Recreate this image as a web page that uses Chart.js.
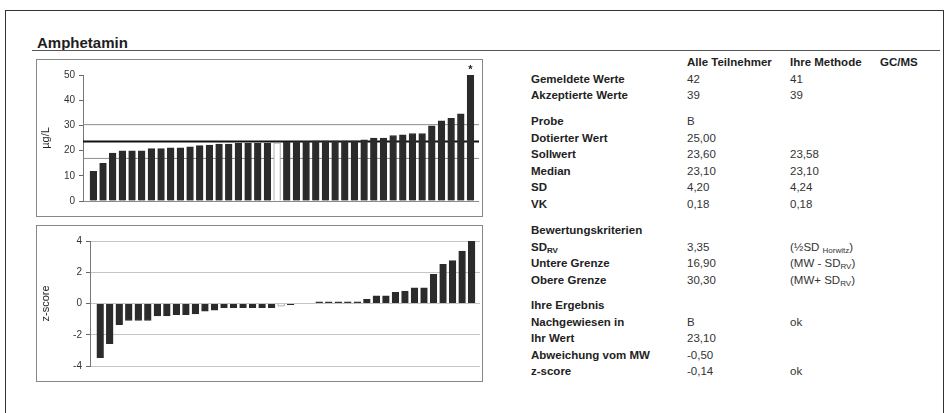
<!DOCTYPE html>
<html>
<head>
<meta charset="utf-8">
<script src="https://cdn.jsdelivr.net/npm/chart.js@4"></script>
<style>
  html, body { margin: 0; padding: 0; background: #fff; }
  body { width: 949px; height: 413px; position: relative; overflow: hidden;
         font-family: 'Liberation Sans', Arial, sans-serif; color: #222; }
  .frame { position: absolute; left: 5px; top: 10px; width: 939px; height: 420px;
           border: 1.5px solid #333; box-sizing: border-box; }
  .heading { position: absolute; left: 37px; top: 34px; font-size: 15px; font-weight: bold;
             line-height: 17px; color: #1e1e1e; }
  .rule { position: absolute; left: 32px; top: 50px; width: 908px; height: 1px; background: #555; }
  .box { position: absolute; border: 1px solid #888; box-sizing: border-box; }
  canvas { position: absolute; }
  .t { position: absolute; font-size: 11.5px; line-height: 16px; white-space: nowrap; color: #333; }
  .b { font-weight: bold; color: #222; }
  sub { font-size: 8px; vertical-align: -2px; line-height: 0; }
</style>
</head>
<body>
<div class="frame"></div>
<div class="heading">Amphetamin</div>
<div class="rule"></div>

<div class="box" style="left:36px;top:59px;width:447px;height:158px"></div>
<div class="box" style="left:36px;top:225px;width:447px;height:157px"></div>
<canvas id="valueChart" width="445" height="156" style="left:37px;top:60px"></canvas>
<canvas id="zChart" width="445" height="155" style="left:37px;top:226px"></canvas>

<!-- statistics table -->
<div class="t b" style="left:687px;top:54px">Alle Teilnehmer</div>
<div class="t b" style="left:790px;top:54px">Ihre Methode</div>
<div class="t b" style="left:880px;top:54px">GC/MS</div>

<div class="t b" style="left:531px;top:71px">Gemeldete Werte</div>
<div class="t" style="left:687px;top:71px">42</div>
<div class="t" style="left:790px;top:71px">41</div>
<div class="t b" style="left:531px;top:87px">Akzeptierte Werte</div>
<div class="t" style="left:687px;top:87px">39</div>
<div class="t" style="left:790px;top:87px">39</div>

<div class="t b" style="left:531px;top:113px">Probe</div>
<div class="t" style="left:687px;top:113px">B</div>
<div class="t b" style="left:531px;top:129.5px">Dotierter Wert</div>
<div class="t" style="left:687px;top:129.5px">25,00</div>
<div class="t b" style="left:531px;top:146px">Sollwert</div>
<div class="t" style="left:687px;top:146px">23,60</div>
<div class="t" style="left:790px;top:146px">23,58</div>
<div class="t b" style="left:531px;top:162.5px">Median</div>
<div class="t" style="left:687px;top:162.5px">23,10</div>
<div class="t" style="left:790px;top:162.5px">23,10</div>
<div class="t b" style="left:531px;top:179px">SD</div>
<div class="t" style="left:687px;top:179px">4,20</div>
<div class="t" style="left:790px;top:179px">4,24</div>
<div class="t b" style="left:531px;top:195.5px">VK</div>
<div class="t" style="left:687px;top:195.5px">0,18</div>
<div class="t" style="left:790px;top:195.5px">0,18</div>

<div class="t b" style="left:531px;top:222px">Bewertungskriterien</div>
<div class="t b" style="left:531px;top:238.5px">SD<sub>RV</sub></div>
<div class="t" style="left:687px;top:238.5px">3,35</div>
<div class="t" style="left:790px;top:238.5px">(½SD <sub>Horwitz</sub>)</div>
<div class="t b" style="left:531px;top:255px">Untere Grenze</div>
<div class="t" style="left:687px;top:255px">16,90</div>
<div class="t" style="left:790px;top:255px">(MW - SD<sub>RV</sub>)</div>
<div class="t b" style="left:531px;top:271.5px">Obere Grenze</div>
<div class="t" style="left:687px;top:271.5px">30,30</div>
<div class="t" style="left:790px;top:271.5px">(MW+ SD<sub>RV</sub>)</div>

<div class="t b" style="left:531px;top:297px">Ihre Ergebnis</div>
<div class="t b" style="left:531px;top:313.5px">Nachgewiesen in</div>
<div class="t" style="left:687px;top:313.5px">B</div>
<div class="t" style="left:790px;top:313.5px">ok</div>
<div class="t b" style="left:531px;top:330px">Ihr Wert</div>
<div class="t" style="left:687px;top:330px">23,10</div>
<div class="t b" style="left:531px;top:346.5px">Abweichung vom MW</div>
<div class="t" style="left:687px;top:346.5px">-0,50</div>
<div class="t b" style="left:531px;top:363px">z-score</div>
<div class="t" style="left:687px;top:363px">-0,14</div>
<div class="t" style="left:790px;top:363px">ok</div>

<script>
// Reported results, sorted ascending (µg/L)
const values = [11.8, 14.9, 19.0, 19.9, 19.9, 19.9, 20.8, 20.8, 21.1, 21.1,
                21.5, 22.0, 22.2, 22.6, 22.6, 22.9, 22.9, 22.9, 22.9, 23.1,
                23.3, 23.6, 23.6, 23.9, 23.9, 23.9, 23.9, 23.9, 24.3, 25.0,
                25.0, 26.0, 26.3, 26.8, 26.8, 29.8, 31.8, 32.8, 34.6, 51.0];
// z-scores of the same participants
const zScores = [-3.47, -2.57, -1.36, -1.09, -1.09, -1.09, -0.79, -0.79, -0.72, -0.72,
                 -0.66, -0.49, -0.43, -0.26, -0.26, -0.26, -0.26, -0.26, -0.26, -0.17,
                 -0.08, 0, 0, 0.1, 0.1, 0.1, 0.1, 0.1, 0.26, 0.49,
                 0.49, 0.72, 0.79, 1.0, 1.0, 1.87, 2.51, 2.74, 3.36, 4.13];
const ownIndex = 19;        // "Ihr Wert"
const outliers = [39];      // marked with *
const assignedValue = 23.6; // Sollwert
const lowerLimit = 16.9;
const upperLimit = 30.3;
const valueTicks = [0, 10, 20, 30, 40, 50];
const zTicks = [-4, -2, 0, 2, 4];

const barColor = '#2b2b2b';
const fontFamily = "'Liberation Sans', Arial, sans-serif";

function toPoints(arr) {
    return arr.map(function (v, i) { return { x: i, y: v }; });
}
const fills = values.map(function (v, i) { return i === ownIndex ? '#ffffff' : barColor; });
const borders = values.map(function (v, i) { return i === ownIndex ? '#999999' : barColor; });

const xScale = { type: 'linear', display: false, offset: false, min: -1.07, max: 39.88 };

function yAxis(min, max, step, title, width, gridColor) {
    return {
        min: min,
        max: max,
        afterBuildTicks: function (scale) {
            const list = min === 0 ? valueTicks : zTicks;
            scale.ticks = list.map(function (v) { return { value: v }; });
        },
        afterFit: function (scale) { scale.width = width; },
        grid: { color: gridColor, tickColor: '#666', tickLength: 4, lineWidth: 1 },
        border: { color: '#777' },
        ticks: { padding: 4, color: '#333', font: { family: fontFamily, size: 10 } },
        title: { display: true, text: title, color: '#222', padding: { top: 2, bottom: 0 },
                 font: { family: fontFamily, size: 11 } }
    };
}

// reference lines + outlier marker on the value chart
const limitLines = {
    id: 'limitLines',
    beforeDatasetsDraw: function (chart) {
        const ctx = chart.ctx, y = chart.scales.y, area = chart.chartArea;
        ctx.save();
        [[lowerLimit, '#8c8c8c', 1], [upperLimit, '#8c8c8c', 1], [assignedValue, '#111', 2]].forEach(function (l) {
            const py = y.getPixelForValue(l[0]);
            ctx.strokeStyle = l[1];
            ctx.lineWidth = l[2];
            ctx.beginPath();
            ctx.moveTo(area.left, py);
            ctx.lineTo(area.right, py);
            ctx.stroke();
        });
        ctx.restore();
    },
    afterDatasetsDraw: function (chart) {
        const ctx = chart.ctx, meta = chart.getDatasetMeta(0);
        ctx.save();
        ctx.fillStyle = '#222';
        ctx.font = 'bold 11px ' + fontFamily;
        ctx.textAlign = 'center';
        ctx.textBaseline = 'bottom';
        outliers.forEach(function (i) {
            const bar = meta.data[i];
            ctx.fillText('*', bar.x, bar.y + 3);
        });
        ctx.restore();
    }
};

new Chart(document.getElementById('valueChart'), {
    type: 'bar',
    data: {
        datasets: [{
            data: toPoints(values),
            backgroundColor: fills,
            borderColor: borders,
            borderWidth: 1,
            barThickness: 6.7
        }]
    },
    options: {
        responsive: false,
        animation: false,
        layout: { padding: { top: 15, right: 3, bottom: 15, left: 0 } },
        plugins: { legend: { display: false }, tooltip: { enabled: false } },
        scales: {
            x: xScale,
            y: yAxis(0, 50, 10, 'µg/L', 46, function (c) {
                return c.tick && c.tick.value === 0 ? '#8a8a8a' : 'rgba(0,0,0,0)';
            })
        }
    },
    plugins: [limitLines]
});

new Chart(document.getElementById('zChart'), {
    type: 'bar',
    data: {
        datasets: [{
            data: toPoints(zScores),
            backgroundColor: fills,
            borderColor: borders,
            borderWidth: 1,
            barThickness: 6.7
        }]
    },
    options: {
        responsive: false,
        animation: false,
        layout: { padding: { top: 15, right: 2, bottom: 15, left: 0 } },
        plugins: { legend: { display: false }, tooltip: { enabled: false } },
        scales: {
            x: xScale,
            y: yAxis(-4, 4, 2, 'z-score', 53, '#c4c4c4')
        }
    }
});
</script>
</body>
</html>
